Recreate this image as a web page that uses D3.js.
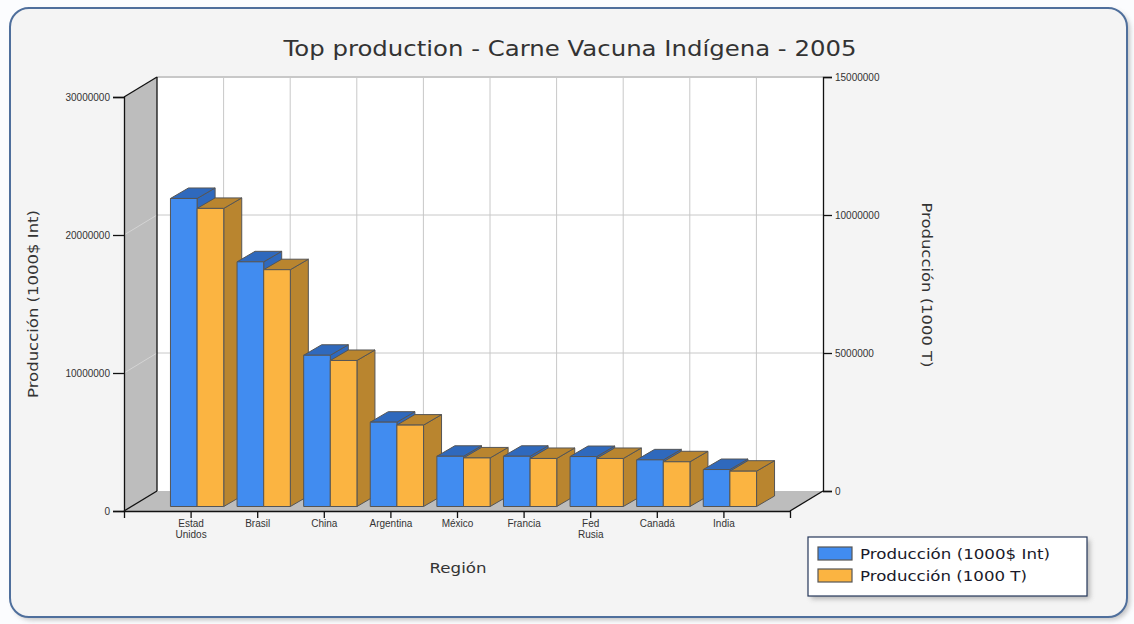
<!DOCTYPE html>
<html>
<head>
<meta charset="utf-8">
<script src="https://cdn.jsdelivr.net/npm/d3@7"></script>
<style>
  body { margin: 0; background: #fbfcfe; }
  svg { display: block; }
  .tick text { font-family: "Liberation Sans", Arial, sans-serif; font-size: 10px; fill: #333; }
  .ttl { font-family: "DejaVu Sans", Verdana, sans-serif; fill: #333; }
</style>
</head>
<body>
<section></section>
<script>
// chart data
var categories = ["Estad Unidos", "Brasil", "China", "Argentina", "México", "Francia", "Fed Rusia", "Canadá", "India"];
var prodIntl = [22320000, 17730000, 10960000, 6110000, 3640000, 3640000, 3620000, 3380000, 2680000];
var prodTonnes = [10800000, 8580000, 5290000, 2950000, 1760000, 1740000, 1740000, 1620000, 1280000];
var leftTicks = [0, 10000000, 20000000, 30000000];
var rightTicks = [0, 5000000, 10000000, 15000000];
var seriesNames = ["Producción (1000$ Int)", "Producción (1000 T)"];

// plot frame (front plane) and 3d depth
var plot = {left: 124, right: 790, top: 97, bottom: 511},
  DX = 33, DY = -20;

var svg = d3.select("section").append("svg")
  .attr("width", 1134)
  .attr("height", 624);

var defs = svg.append("defs");
defs.append("filter").attr("id", "blur")
  .append("feGaussianBlur").attr("stdDeviation", 2.5);

// outer frame
svg.append("rect")
  .attr("x", 13).attr("y", 11).attr("width", 1117).attr("height", 609)
  .attr("rx", 19).attr("fill", "#9a9a9a").attr("opacity", 0.6)
  .attr("filter", "url(#blur)");
svg.append("rect")
  .attr("x", 10).attr("y", 8).attr("width", 1117).attr("height", 609)
  .attr("rx", 19).attr("fill", "#f4f4f4")
  .attr("stroke", "#4f6f9c").attr("stroke-width", 2);

// scales
var x = d3.scalePoint()
  .domain(categories)
  .range([plot.left, plot.right])
  .padding(1);

var yL = d3.scaleLinear()
  .domain([0, 30000000])
  .range([plot.bottom, plot.top]);

var yR = d3.scaleLinear()
  .domain([0, 15000000])
  .range([plot.bottom + DY, plot.top + DY]);

var g = svg.append("g");

// walls
g.append("polygon")
  .attr("points", [[plot.left, plot.top], [plot.left + DX, plot.top + DY],
    [plot.left + DX, plot.bottom + DY], [plot.left, plot.bottom]].join(" "))
  .attr("fill", "#bdbdbd");
g.append("polygon")
  .attr("points", [[plot.left, plot.bottom], [plot.left + DX, plot.bottom + DY],
    [plot.right + DX, plot.bottom + DY], [plot.right, plot.bottom]].join(" "))
  .attr("fill", "#bdbdbd");
g.append("rect")
  .attr("x", plot.left + DX).attr("y", plot.top + DY)
  .attr("width", plot.right - plot.left).attr("height", plot.bottom - plot.top)
  .attr("fill", "#fff");

// grid lines on back wall and side wall
g.selectAll(".hgrid")
  .data(rightTicks.slice(1, -1))
  .enter().append("line")
  .attr("x1", plot.left + DX).attr("x2", plot.right + DX)
  .attr("y1", function(d) { return yR(d); })
  .attr("y2", function(d) { return yR(d); })
  .attr("stroke", "#c8c8c8");
g.selectAll(".sgrid")
  .data(leftTicks.slice(1, -1))
  .enter().append("line")
  .attr("x1", plot.left).attr("x2", plot.left + DX)
  .attr("y1", function(d) { return yL(d); })
  .attr("y2", function(d) { return yL(d) + DY; })
  .attr("stroke", "#d4d4d4");
g.append("line")
  .attr("x1", plot.left + DX).attr("x2", plot.right + DX)
  .attr("y1", plot.top + DY).attr("y2", plot.top + DY)
  .attr("stroke", "#c8c8c8").attr("stroke-width", 2);
g.selectAll(".vgrid")
  .data(categories)
  .enter().append("line")
  .attr("x1", function(d) { return x(d) + DX; })
  .attr("x2", function(d) { return x(d) + DX; })
  .attr("y1", plot.top + DY).attr("y2", plot.bottom + DY)
  .attr("stroke", "#c8c8c8");

// edges of the box
var edges = [
  [[plot.left, plot.top], [plot.left + DX, plot.top + DY]],
  [[plot.left + DX, plot.top + DY], [plot.left + DX, plot.bottom + DY]],
  [[plot.left, plot.bottom], [plot.left + DX, plot.bottom + DY]],
  [[plot.right, plot.bottom], [plot.right + DX, plot.bottom + DY]]
];
g.selectAll(".edge")
  .data(edges)
  .enter().append("path")
  .attr("d", function(d) { return d3.line()(d); })
  .attr("stroke", "#111").attr("stroke-width", 1.3).attr("fill", "none");

// bars
var bw = x.step() * 0.4,
  offX = 6.5, offY = -4.5,
  bdx = 18, bdy = -10.5,
  base = yL(0) + offY;

var colors = [
  {front: "#418cf0", top: "#2f69bd", side: "#2f69bd"},
  {front: "#fbb441", top: "#b9852f", side: "#b9852f"}
];

function bar3d(sel, x0, top, c) {
  var b = sel.append("g").attr("stroke", "#555").attr("stroke-width", 1)
    .attr("stroke-linejoin", "round");
  b.append("polygon")
    .attr("points", [[x0 + bw, top], [x0 + bw + bdx, top + bdy],
      [x0 + bw + bdx, base + bdy], [x0 + bw, base]].join(" "))
    .attr("fill", c.side);
  b.append("polygon")
    .attr("points", [[x0, top], [x0 + bdx, top + bdy],
      [x0 + bw + bdx, top + bdy], [x0 + bw, top]].join(" "))
    .attr("fill", c.top);
  b.append("rect")
    .attr("x", x0).attr("y", top)
    .attr("width", bw).attr("height", base - top)
    .attr("fill", c.front);
}

var bars = g.append("g");
categories.forEach(function(cat, i) {
  var cx = x(cat) + offX;
  bar3d(bars, cx - bw, base - (yL(0) - yL(prodIntl[i])), colors[0]);
  bar3d(bars, cx, base - (yR(0) - yR(prodTonnes[i])), colors[1]);
});

// axes
var axL = g.append("g")
  .attr("transform", "translate(" + plot.left + ",0)")
  .call(d3.axisLeft(yL).tickValues(leftTicks).tickSize(11).tickPadding(3)
    .tickFormat(d3.format("d")));

var axR = g.append("g")
  .attr("transform", "translate(" + (plot.right + DX) + ",0)")
  .call(d3.axisRight(yR).tickValues(rightTicks).tickSize(9).tickPadding(3)
    .tickFormat(d3.format("d")));

var axB = g.append("g")
  .attr("transform", "translate(0," + plot.bottom + ")")
  .call(d3.axisBottom(x).tickSize(7).tickSizeOuter(7).tickPadding(2));

[axL, axR, axB].forEach(function(a) {
  a.selectAll("path, line").attr("stroke", "#111").attr("stroke-width", 1.3);
});

axB.selectAll(".tick text").each(function(d) {
  var t = d3.select(this), words = d.split(" ");
  t.text(null);
  words.forEach(function(w, k) {
    t.append("tspan").attr("x", 0).attr("dy", k ? "1.1em" : "0.71em").text(w);
  });
});

// titles
svg.append("text").attr("class", "ttl")
  .attr("x", 570).attr("y", 56)
  .attr("text-anchor", "middle")
  .attr("textLength", 573).attr("lengthAdjust", "spacingAndGlyphs")
  .style("font-size", "22px")
  .text("Top production - Carne Vacuna Indígena - 2005");

svg.append("text").attr("class", "ttl")
  .attr("transform", "translate(38,304) rotate(-90)")
  .attr("text-anchor", "middle")
  .attr("textLength", 188).attr("lengthAdjust", "spacingAndGlyphs")
  .style("font-size", "14.5px")
  .text(seriesNames[0]);

svg.append("text").attr("class", "ttl")
  .attr("transform", "translate(922,285) rotate(90)")
  .attr("text-anchor", "middle")
  .attr("textLength", 165).attr("lengthAdjust", "spacingAndGlyphs")
  .style("font-size", "14.5px")
  .text(seriesNames[1]);

svg.append("text").attr("class", "ttl")
  .attr("x", 458).attr("y", 573)
  .attr("text-anchor", "middle")
  .attr("textLength", 57).attr("lengthAdjust", "spacingAndGlyphs")
  .style("font-size", "14.5px")
  .text("Región");

// legend
var legend = svg.append("g").attr("transform", "translate(808,537)");
legend.append("rect")
  .attr("x", 3).attr("y", 3).attr("width", 279).attr("height", 59)
  .attr("fill", "#8a8a8a").attr("opacity", 0.6).attr("filter", "url(#blur)");
legend.append("rect")
  .attr("width", 279).attr("height", 59)
  .attr("fill", "#fff").attr("stroke", "#26375a").attr("stroke-width", 1.2);

var legendWidths = [190, 167];
var items = legend.selectAll(".item")
  .data(seriesNames)
  .enter().append("g")
  .attr("transform", function(d, i) { return "translate(10," + (10 + i * 22) + ")"; });
items.append("rect")
  .attr("width", 34).attr("height", 13)
  .attr("fill", function(d, i) { return colors[i].front; })
  .attr("stroke", "#555").attr("stroke-width", 1.2);
items.append("text").attr("class", "ttl")
  .attr("x", 42).attr("y", 12)
  .attr("textLength", function(d, i) { return legendWidths[i]; })
  .attr("lengthAdjust", "spacingAndGlyphs")
  .style("font-size", "14.5px")
  .style("fill", "#1a1a2a")
  .text(function(d) { return d; });
</script>
</body>
</html>
